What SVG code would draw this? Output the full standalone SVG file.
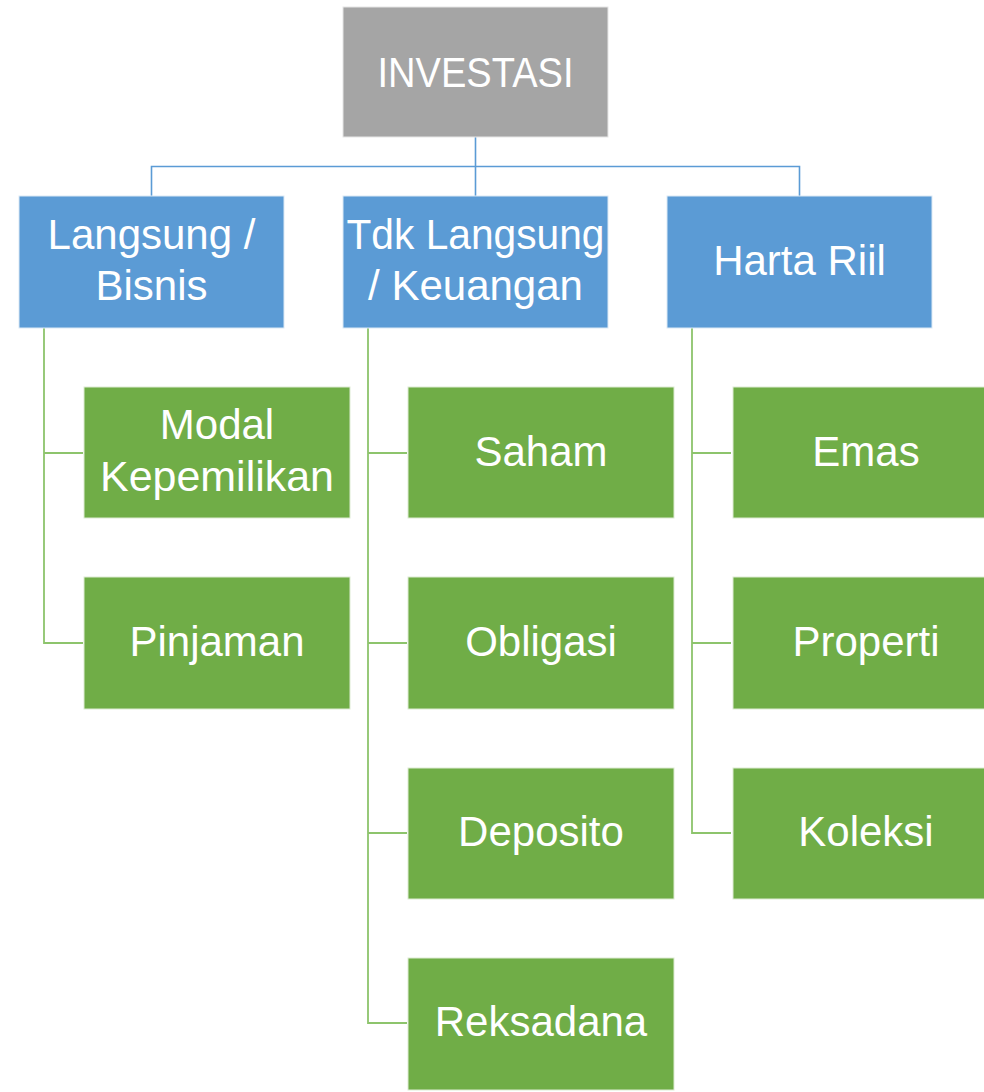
<svg xmlns="http://www.w3.org/2000/svg" width="984" height="1092" viewBox="0 0 984 1092">
<defs>
<style>
.root{fill:#A5A5A5;stroke:#E6E6E6;stroke-width:1}
.blue{fill:#5B9BD5;stroke:#DCE9F5;stroke-width:1}
.green{fill:#70AD47;stroke:#DDEBD3;stroke-width:1}
.lbl{font-family:"Liberation Sans",Arial,sans-serif;font-size:42px;fill:#FFFFFF;text-anchor:middle}
.cb{fill:none;stroke:#5B9BD5;stroke-width:1.6}
.cg{fill:none;stroke:#8DC46C;stroke-width:1.8}
</style>
</defs>
<rect width="984" height="1092" fill="#FFFFFF"/>
<g id="connectors">
<path class="cb" d="M475.5,137 V196 M151.5,196 V166.5 H799.5 V196"/>
<path class="cg" d="M44,328 V643 H83 M44,453 H83"/>
<path class="cg" d="M368,328 V1023 H407 M368,453 H407 M368,643 H407 M368,833 H407"/>
<path class="cg" d="M692,328 V833 H731 M692,453 H731 M692,643 H731"/>
</g>
<g id="n-investasi"><rect class="root" x="343" y="7" width="265" height="130"/><text class="lbl" x="475.5" y="87" textLength="196" lengthAdjust="spacingAndGlyphs">INVESTASI</text></g>
<g id="n-langsung"><rect class="blue" x="19" y="196" width="265" height="132"/><text class="lbl" x="151.5" y="249">Langsung /</text><text class="lbl" x="151.5" y="300">Bisnis</text></g>
<g id="n-tdk"><rect class="blue" x="343" y="196" width="265" height="132"/><text class="lbl" x="475.5" y="249" textLength="258" lengthAdjust="spacingAndGlyphs">Tdk Langsung</text><text class="lbl" x="475.5" y="300">/ Keuangan</text></g>
<g id="n-harta"><rect class="blue" x="667" y="196" width="265" height="132"/><text class="lbl" x="799.5" y="275">Harta Riil</text></g>
<g id="n-modal"><rect class="green" x="84" y="387" width="266" height="131"/><text class="lbl" x="217" y="439">Modal</text><text class="lbl" x="217" y="491" textLength="234" lengthAdjust="spacingAndGlyphs">Kepemilikan</text></g>
<g id="n-pinjaman"><rect class="green" x="84" y="577" width="266" height="132"/><text class="lbl" x="217" y="656">Pinjaman</text></g>
<g id="n-saham"><rect class="green" x="408" y="387" width="266" height="131"/><text class="lbl" x="541" y="466">Saham</text></g>
<g id="n-obligasi"><rect class="green" x="408" y="577" width="266" height="132"/><text class="lbl" x="541" y="656">Obligasi</text></g>
<g id="n-deposito"><rect class="green" x="408" y="768" width="266" height="131"/><text class="lbl" x="541" y="846">Deposito</text></g>
<g id="n-reksadana"><rect class="green" x="408" y="958" width="266" height="132"/><text class="lbl" x="541" y="1036">Reksadana</text></g>
<g id="n-emas"><rect class="green" x="733" y="387" width="266" height="131"/><text class="lbl" x="866" y="466">Emas</text></g>
<g id="n-properti"><rect class="green" x="733" y="577" width="266" height="132"/><text class="lbl" x="866" y="656">Properti</text></g>
<g id="n-koleksi"><rect class="green" x="733" y="768" width="266" height="131"/><text class="lbl" x="866" y="846">Koleksi</text></g>
</svg>
